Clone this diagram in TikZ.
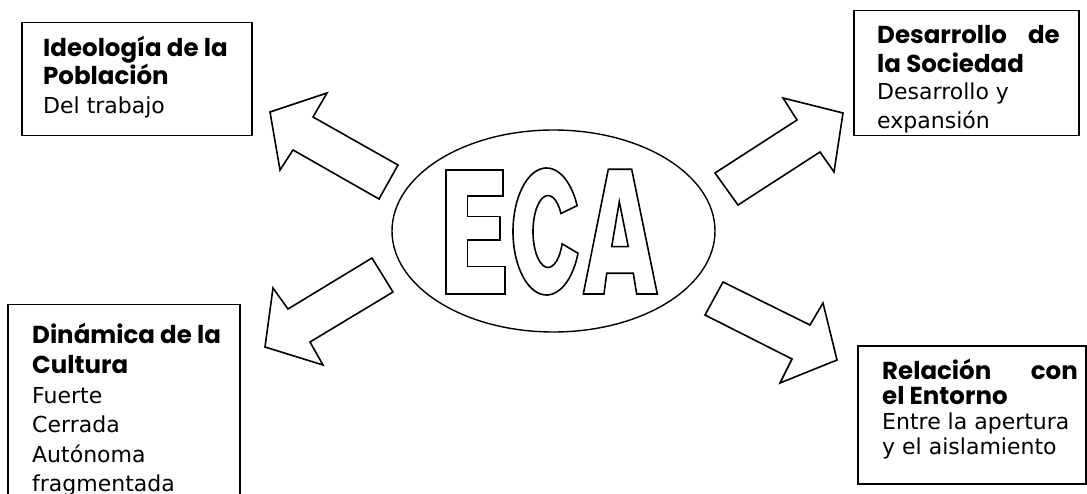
\documentclass[tikz,border=0pt]{standalone}
\usepackage{fontspec}
\usetikzlibrary{shapes.geometric}
\setmainfont{DejaVu Sans}
\newfontfamily\headfont{Poppins}
\tikzset{
  framebox/.style={draw, line width=1.5pt, inner sep=0pt, anchor=north west},
  bodytxt/.style={anchor=base west, inner sep=0pt, font=\fontsize{22}{26}\selectfont},
  headtxt/.style={anchor=base west, inner sep=0pt, font=\headfont\bfseries\fontsize{24.5}{28}\selectfont},
  headtxtr/.style={headtxt, anchor=base east},
  blockarrow/.style={draw, line width=1.6pt, line join=miter},
  letter/.style={draw, line width=1.6pt, line join=miter},
  ring/.style={draw, line width=1.4pt}
}
\begin{document}
\begin{tikzpicture}[x=1pt,y=-1pt]
\useasboundingbox (0,0) rectangle (1087,494);
\clip (0,0) rectangle (1087,494);
\fill[white] (0,0) rectangle (1087,494);

% boxes
\node[framebox, minimum width=230pt, minimum height=113pt] (boxTL) at (21,22) {};
\node[framebox, minimum width=225pt, minimum height=125pt] (boxTR) at (853,10) {};
\node[framebox, minimum width=232pt, minimum height=210pt] (boxBL) at (7,304) {};
\node[framebox, minimum width=228pt, minimum height=138pt] (boxBR) at (857,345) {};

% texts top-left
\node[headtxt] (tl1) at (43,57) {Ideología de la};
\node[headtxt] (tl2) at (43,85) {Población};
\node[bodytxt] (tl3) at (43,114) {Del trabajo};

% texts top-right (clipped by box)
\begin{scope}
\clip (853,10) rectangle (1078,135);
\node[headtxt] (tr1) at (877,44) {Desarrollo};
\node[headtxtr] (tr1b) at (1060,44) {de};
\node[headtxt] (tr2) at (877,73) {la Sociedad};
\node[bodytxt] (tr3) at (877,100) {Desarrollo y};
\node[bodytxt] (tr4) at (877,129) {expansión};
\end{scope}

% texts bottom-left
\node[headtxt] (bl1) at (32,343) {Dinámica de la};
\node[headtxt] (bl2) at (32,373) {Cultura};
\node[bodytxt] (bl3) at (32,403) {Fuerte};
\node[bodytxt] (bl4) at (32,432) {Cerrada};
\node[bodytxt] (bl5) at (32,462) {Autónoma};
\node[bodytxt] (bl6) at (32,491) {fragmentada};

% texts bottom-right
\node[headtxt] (br1) at (882,379) {Relación};
\node[headtxtr] (br1b) at (1078,379) {con};
\node[headtxt] (br2) at (882,404) {el Entorno};
\node[bodytxt] (br3) at (882,429) {Entre la apertura};
\node[bodytxt] (br4) at (882,454) {y el aislamiento};

% central ellipse
\node[ring, ellipse, minimum width=323pt, minimum height=202pt, inner sep=0pt] (eca) at (553.5,231) {};

% letters E C A
\draw[letter] (446,170) -- (502.7,170) -- (502.7,196) -- (467.3,196) -- (467.3,216.7) -- (500,216.7) -- (500,240) -- (467.3,240) -- (467.3,266.7) -- (505,266.7) -- (505,294) -- (446,294) -- cycle;
\draw[letter] ([shift={(546.5,231.5)}]-24:33.5 and 63.5) arc[start angle=-24,end angle=-340,x radius=33.5,y radius=63.5] -- ([shift={(548,231.5)}]-340:15 and 36) arc[start angle=-340,end angle=-30,x radius=15,y radius=36] -- cycle;
\draw[letter] (608.3,169.3) -- (631.7,169.3) -- (657.3,294) -- (636.7,294) -- (633.3,273.3) -- (606.7,273.3) -- (604,294) -- (583.3,294) -- cycle;
\draw[letter] (619.3,201.7) -- (628.3,246.7) -- (611.7,246.7) -- cycle;

% block arrows
\draw[blockarrow] (270,112) -- (327,93) -- (313,117) -- (398,165) -- (379,199) -- (293,150) -- (280,170) -- cycle;
\draw[blockarrow] (372,258) -- (393,292) -- (310,342) -- (323,365) -- (265,347) -- (273,288) -- (288,309) -- cycle;
\draw[blockarrow] (783,98) -- (843,113) -- (834,172) -- (820,152) -- (738,205) -- (715,173) -- (797,120) -- cycle;
\draw[blockarrow] (723,282) -- (810,325) -- (823,303) -- (837,360) -- (780,383) -- (792,359) -- (705,315) -- cycle;
\end{tikzpicture}
\end{document}
